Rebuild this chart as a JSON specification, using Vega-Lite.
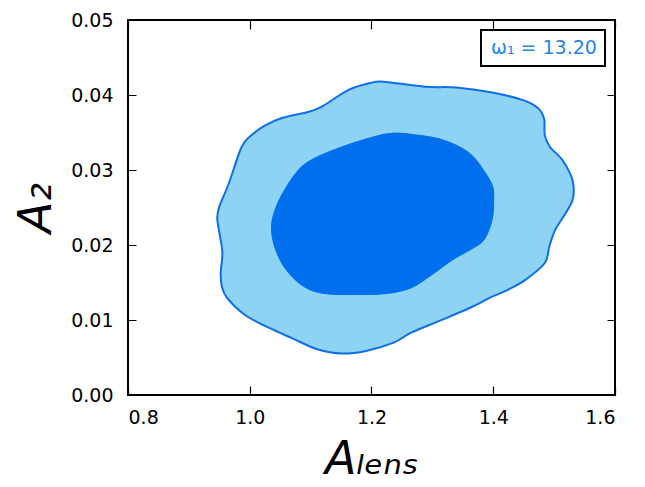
{
  "$schema": "https://vega.github.io/schema/vega-lite/v6.json",
  "autosize": "none",
  "width": 487,
  "height": 375,
  "padding": {"left": 128, "top": 20, "right": 30, "bottom": 92},
  "background": "white",
  "config": {
    "view": {"stroke": "black", "strokeWidth": 2},
    "font": "DejaVu Sans",
    "axis": {
      "domain": false,
      "ticks": false,
      "tickSize": 0,
      "grid": true,
      "gridColor": "black",
      "gridOpacity": 1,
      "gridWidth": 1.2,
      "labelFont": "DejaVu Sans",
      "labelFontSize": 19,
      "labelColor": "black",
      "titleFont": "DejaVu Sans",
      "titleFontStyle": "italic",
      "titleFontWeight": "normal",
      "titleFontSize": 46,
      "titleColor": "black"
    },
    "legend": {
      "orient": "top-right",
      "offset": 10,
      "strokeColor": "black",
      "strokeWidth": 2,
      "fillColor": "white",
      "padding": 8,
      "cornerRadius": 0,
      "labelFont": "DejaVu Sans",
      "labelFontSize": 19,
      "labelColor": "#1f86ea",
      "labelOffset": -17,
      "symbolOpacity": 0,
      "symbolSize": 0,
      "symbolStrokeWidth": 0,
      "title": null
    }
  },
  "data": {
    "values": [
      {"c": "outer", "i": 0, "x": 1.2194, "y": 0.04178},
      {"c": "outer", "i": 1, "x": 1.2879, "y": 0.0411},
      {"c": "outer", "i": 2, "x": 1.3392, "y": 0.0410},
      {"c": "outer", "i": 3, "x": 1.3963, "y": 0.04036},
      {"c": "outer", "i": 4, "x": 1.4476, "y": 0.03935},
      {"c": "outer", "i": 5, "x": 1.4733, "y": 0.03828},
      {"c": "outer", "i": 6, "x": 1.4836, "y": 0.03683},
      {"c": "outer", "i": 7, "x": 1.4847, "y": 0.03462},
      {"c": "outer", "i": 8, "x": 1.4933, "y": 0.03307},
      {"c": "outer", "i": 9, "x": 1.5132, "y": 0.03139},
      {"c": "outer", "i": 10, "x": 1.5275, "y": 0.02931},
      {"c": "outer", "i": 11, "x": 1.532, "y": 0.02776},
      {"c": "outer", "i": 12, "x": 1.5303, "y": 0.026},
      {"c": "outer", "i": 13, "x": 1.5189, "y": 0.02423},
      {"c": "outer", "i": 14, "x": 1.5018, "y": 0.02202},
      {"c": "outer", "i": 15, "x": 1.4921, "y": 0.0198},
      {"c": "outer", "i": 16, "x": 1.4847, "y": 0.0176},
      {"c": "outer", "i": 17, "x": 1.4533, "y": 0.01538},
      {"c": "outer", "i": 18, "x": 1.4248, "y": 0.01406},
      {"c": "outer", "i": 19, "x": 1.3963, "y": 0.01304},
      {"c": "outer", "i": 20, "x": 1.3621, "y": 0.01163},
      {"c": "outer", "i": 21, "x": 1.3107, "y": 0.00986},
      {"c": "outer", "i": 22, "x": 1.265, "y": 0.00831},
      {"c": "outer", "i": 23, "x": 1.2365, "y": 0.00698},
      {"c": "outer", "i": 24, "x": 1.1909, "y": 0.00588},
      {"c": "outer", "i": 25, "x": 1.1509, "y": 0.00553},
      {"c": "outer", "i": 26, "x": 1.111, "y": 0.0061},
      {"c": "outer", "i": 27, "x": 1.071, "y": 0.00752},
      {"c": "outer", "i": 28, "x": 1.0311, "y": 0.00897},
      {"c": "outer", "i": 29, "x": 0.9911, "y": 0.01074},
      {"c": "outer", "i": 30, "x": 0.9626, "y": 0.01295},
      {"c": "outer", "i": 31, "x": 0.954, "y": 0.0145},
      {"c": "outer", "i": 32, "x": 0.9523, "y": 0.01627},
      {"c": "outer", "i": 33, "x": 0.9551, "y": 0.01892},
      {"c": "outer", "i": 34, "x": 0.9512, "y": 0.02113},
      {"c": "outer", "i": 35, "x": 0.9466, "y": 0.02356},
      {"c": "outer", "i": 36, "x": 0.95, "y": 0.02511},
      {"c": "outer", "i": 37, "x": 0.9655, "y": 0.0282},
      {"c": "outer", "i": 38, "x": 0.9866, "y": 0.03307},
      {"c": "outer", "i": 39, "x": 1.0026, "y": 0.03462},
      {"c": "outer", "i": 40, "x": 1.0254, "y": 0.03594},
      {"c": "outer", "i": 41, "x": 1.0539, "y": 0.03696},
      {"c": "outer", "i": 42, "x": 1.0939, "y": 0.03771},
      {"c": "outer", "i": 43, "x": 1.1167, "y": 0.03837},
      {"c": "outer", "i": 44, "x": 1.1623, "y": 0.04067},
      {"c": "outer", "i": 45, "x": 1.1965, "y": 0.04156},
      {"c": "inner", "i": 0, "x": 1.2365, "y": 0.03492},
      {"c": "inner", "i": 1, "x": 1.2707, "y": 0.0347},
      {"c": "inner", "i": 2, "x": 1.3107, "y": 0.03417},
      {"c": "inner", "i": 3, "x": 1.3449, "y": 0.03307},
      {"c": "inner", "i": 4, "x": 1.3677, "y": 0.03174},
      {"c": "inner", "i": 5, "x": 1.3877, "y": 0.02953},
      {"c": "inner", "i": 6, "x": 1.3991, "y": 0.02776},
      {"c": "inner", "i": 7, "x": 1.4008, "y": 0.026},
      {"c": "inner", "i": 8, "x": 1.398, "y": 0.02334},
      {"c": "inner", "i": 9, "x": 1.3849, "y": 0.02069},
      {"c": "inner", "i": 10, "x": 1.3621, "y": 0.01936},
      {"c": "inner", "i": 11, "x": 1.3335, "y": 0.01804},
      {"c": "inner", "i": 12, "x": 1.2993, "y": 0.01605},
      {"c": "inner", "i": 13, "x": 1.265, "y": 0.01428},
      {"c": "inner", "i": 14, "x": 1.2251, "y": 0.01353},
      {"c": "inner", "i": 15, "x": 1.1794, "y": 0.0134},
      {"c": "inner", "i": 16, "x": 1.1224, "y": 0.01353},
      {"c": "inner", "i": 17, "x": 1.0882, "y": 0.0145},
      {"c": "inner", "i": 18, "x": 1.0596, "y": 0.01671},
      {"c": "inner", "i": 19, "x": 1.0425, "y": 0.01936},
      {"c": "inner", "i": 20, "x": 1.0357, "y": 0.02202},
      {"c": "inner", "i": 21, "x": 1.0397, "y": 0.02423},
      {"c": "inner", "i": 22, "x": 1.0539, "y": 0.02688},
      {"c": "inner", "i": 23, "x": 1.0796, "y": 0.02997},
      {"c": "inner", "i": 24, "x": 1.1053, "y": 0.03152},
      {"c": "inner", "i": 25, "x": 1.1509, "y": 0.03307},
      {"c": "inner", "i": 26, "x": 1.2022, "y": 0.03439}
    ]
  },
  "layer": [
    {
      "transform": [{"filter": "datum.c === 'outer'"}],
      "mark": {"type": "line", "interpolate": "cardinal-closed", "fill": "#8fd3f4", "strokeWidth": 2, "clip": true},
      "encoding": {
        "x": {"field": "x", "type": "quantitative", "scale": {"domain": [0.8, 1.6], "nice": false, "zero": false},
              "axis": {"values": [0.8, 1.0, 1.2, 1.4, 1.6], "format": ".1f", "labelPadding": 13, "gridDash": [9, 357], "title": "Aₗₑₙₛ", "titlePadding": 10}},
        "y": {"field": "y", "type": "quantitative", "scale": {"domain": [0, 0.05], "nice": false},
              "axis": {"values": [0, 0.01, 0.02, 0.03, 0.04, 0.05], "format": ".2f", "labelPadding": 15, "gridDash": [8, 471], "title": "A₂", "titlePadding": 10}},
        "order": {"field": "i", "type": "quantitative"},
        "stroke": {"datum": "ω₁ = 13.20", "type": "nominal", "scale": {"range": ["#0f6fe8"]}}
      }
    },
    {
      "transform": [{"filter": "datum.c === 'inner'"}],
      "mark": {"type": "line", "interpolate": "cardinal-closed", "fill": "#006fed", "stroke": "#006fed", "strokeWidth": 1},
      "encoding": {
        "x": {"field": "x", "type": "quantitative"},
        "y": {"field": "y", "type": "quantitative"},
        "order": {"field": "i", "type": "quantitative"}
      }
    }
  ]
}
